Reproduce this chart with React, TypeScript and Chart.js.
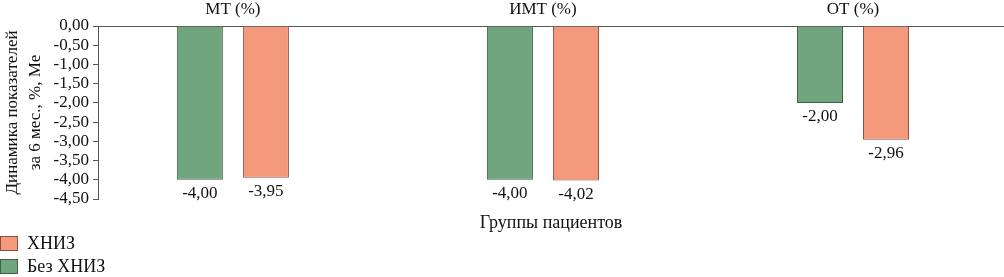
import React, { useEffect, useRef } from "react";
import { Chart, registerables } from "chart.js";

Chart.register(...registerables);

const categories = ["МТ (%)", "ИМТ (%)", "ОТ (%)"];
const seriesNames = ["Без ХНИЗ", "ХНИЗ"];
const bezHniz = [-4.0, -4.0, -2.0];
const hniz = [-3.95, -4.02, -2.96];
const yTicks = [0, -0.5, -1, -1.5, -2, -2.5, -3, -3.5, -4, -4.5];

const GREEN = "#71a57e";
const GREEN_BORDER = "#3f5f48";
const RED = "#f4997b";
const RED_BORDER = "#8a5040";
const FONT = "'Liberation Serif', 'Times New Roman', serif";

const fmt = (v: number) => v.toFixed(2).replace(".", ",");

const labelPlugin = {
  id: "barLabels",
  afterDatasetsDraw(chart: any) {
    const ctx = chart.ctx;
    ctx.save();
    ctx.font = `17px ${FONT}`;
    ctx.fillStyle = "#111";
    ctx.textAlign = "center";
    ctx.textBaseline = "top";
    chart.data.datasets.forEach((ds: any, di: number) => {
      const meta = chart.getDatasetMeta(di);
      meta.data.forEach((bar: any, i: number) => {
        const v = ds.data[i].y;
        ctx.fillText(fmt(v), bar.x, bar.y + 5);
      });
    });
    ctx.restore();
  },
};

export default function App() {
  const ref = useRef<HTMLCanvasElement | null>(null);
  useEffect(() => {
    document.body.style.margin = "0";
    const canvas = ref.current!;
    const chart = new Chart(canvas, {
      type: "bar",
      data: {
        datasets: [
          {
            label: seriesNames[0],
            data: bezHniz.map((y, i) => ({ x: i, y })),
            backgroundColor: GREEN,
            borderColor: GREEN_BORDER,
            borderWidth: 1,
            categoryPercentage: 0.426,
            barPercentage: 0.697,
          },
          {
            label: seriesNames[1],
            data: hniz.map((y, i) => ({ x: i, y })),
            backgroundColor: RED,
            borderColor: RED_BORDER,
            borderWidth: 1,
            categoryPercentage: 0.426,
            barPercentage: 0.697,
          },
        ],
      },
      options: {
        animation: false,
        responsive: false,
        maintainAspectRatio: false,
        layout: { padding: { left: 0, right: 0, top: 0, bottom: 45 } },
        plugins: { legend: { display: false }, tooltip: { enabled: false } },
        scales: {
          x: {
            type: "linear",
            position: "top",
            offset: false,
            min: -0.435,
            max: 2.487,
            afterBuildTicks: (axis: any) => {
              axis.ticks = categories.map((_, i) => ({ value: i }));
            },
            afterFit: (axis: any) => {
              axis.height = 26;
            },
            ticks: {
              callback: (v: any) => categories[Math.round(Number(v))] ?? "",
              font: { family: FONT, size: 17 },
              color: "#111",
              padding: 6,
              maxRotation: 0,
              autoSkip: false,
            },
            grid: { display: false, drawTicks: false, offset: false },
            border: { display: true, color: "#555", width: 1 },
          },
          x2: {
            type: "linear",
            position: "bottom",
            offset: false,
            min: 0,
            max: 1,
            afterFit: (axis: any) => {
              axis.height = 33;
            },
            ticks: { display: false },
            grid: { display: false, drawTicks: false },
            border: { display: false },
            title: {
              display: true,
              text: "Группы пациентов",
              font: { family: FONT, size: 18, lineHeight: 1.0 },
              color: "#111",
              padding: { top: 0, bottom: 0 },
            },
          },
          y: {
            min: -4.5,
            max: 0,
            afterBuildTicks: (axis: any) => {
              axis.ticks = yTicks.map((v) => ({ value: v }));
            },
            afterFit: (axis: any) => {
              axis.width = 98;
            },
            ticks: {
              callback: (v: any) => fmt(Number(v)),
              font: { family: FONT, size: 17 },
              color: "#111",
              padding: 4,
              autoSkip: false,
            },
            grid: {
              display: true,
              drawOnChartArea: false,
              drawTicks: true,
              tickLength: 5,
              color: "#555",
            },
            border: { display: true, color: "#555", width: 1 },
            title: {
              display: true,
              text: ["Динамика показателей", "за 6 мес., %, Ме"],
              font: { family: FONT, size: 17, lineHeight: 1.35 },
              color: "#111",
              padding: { top: 1, bottom: 0 },
            },
          },
        },
      },
      plugins: [labelPlugin],
    });
    return () => chart.destroy();
  }, []);

  const legendItems = [
    { name: seriesNames[1], color: RED, border: RED_BORDER },
    { name: seriesNames[0], color: GREEN, border: GREEN_BORDER },
  ];

  return (
    <div style={{ position: "relative", width: 1004, height: 277 }}>
      <canvas ref={ref} width={1004} height={277} style={{ display: "block" }} />
      <div style={{ position: "absolute", left: 0, top: 232, fontFamily: FONT, fontSize: 18, color: "#111" }}>
        {legendItems.map((it) => (
          <div key={it.name} style={{ display: "flex", alignItems: "center", height: 23 }}>
            <span
              style={{
                display: "inline-block",
                width: 18,
                height: 15,
                background: it.color,
                border: `1px solid ${it.border}`,
                boxSizing: "border-box",
                marginRight: 9,
              }}
            />
            <span>{it.name}</span>
          </div>
        ))}
      </div>
    </div>
  );
}
